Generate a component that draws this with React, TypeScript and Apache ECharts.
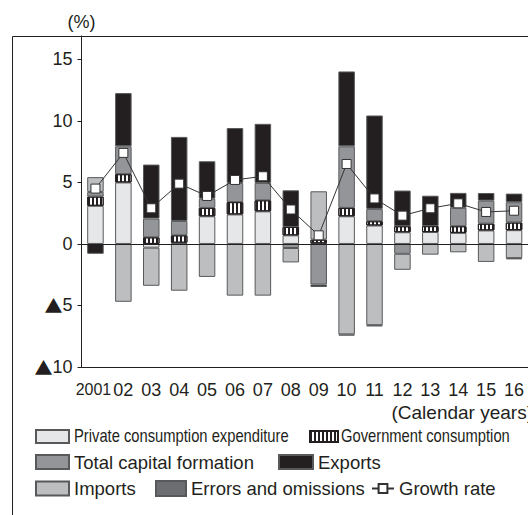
import React, { useEffect, useRef } from 'react';
import * as echarts from 'echarts';

const years = ['2001', '02', '03', '04', '05', '06', '07', '08', '09', '10', '11', '12', '13', '14', '15', '16'];
const privateCons = [3.1, 5.0, -0.3, 0.1, 2.25, 2.4, 2.65, 0.7, 0.05, 2.25, 1.5, 0.95, 0.97, 0.9, 1.1, 1.12];
const govtCons = [0.75, 0.67, 0.54, 0.6, 0.68, 1.0, 0.9, 0.68, 0.3, 0.68, 0.35, 0.49, 0.48, 0.54, 0.55, 0.62];
const capital = [0.38, 2.26, 1.52, 1.17, 0.75, 1.55, 1.41, -0.33, -3.3, 5.0, 1.0, -0.8, null, 1.5, 1.87, 1.65];
const exportsC = [-0.8, 4.33, 4.39, 6.83, 3.04, 4.47, 4.8, 2.98, -0.2, 6.09, 7.59, 2.9, 2.47, 1.21, 0.62, 0.7];
const importsC = [1.2, -4.7, -3.1, -3.8, -2.68, -4.2, -4.2, -1.17, 3.93, -7.35, -6.6, -1.3, -0.87, -0.68, -1.46, -1.15];
const errorsC = [null, null, null, null, null, null, null, null, null, -0.1, -0.1, null, null, null, null, -0.1];
const growth = [4.5, 7.4, 2.9, 4.9, 3.9, 5.2, 5.5, 2.8, 0.7, 6.5, 3.7, 2.3, 2.9, 3.3, 2.6, 2.7];

const FONT = "'Liberation Sans', Arial, Helvetica, sans-serif";
const INK = '#231f20';

export default function App() {
  const ref = useRef<HTMLDivElement>(null);
  useEffect(() => {
    const chart = echarts.init(ref.current as HTMLDivElement, null, { renderer: 'svg' });
    const bar = (name: string, data: any[], color: string) => ({
      name,
      type: 'bar',
      stack: 'gdp',
      data,
      barWidth: 16.5,
      itemStyle: { color, borderColor: '#58595b', borderWidth: 1 },
    });
    const leg = (name: string, left: number, top: number, w: number, h: number, hideText = false, icon: any = 'rect') => ({
      data: [name],
      left,
      top,
      padding: 0,
      itemGap: 0,
      itemWidth: w,
      itemHeight: h,
      selectedMode: false,
      ...(icon ? { icon } : {}),
      ...(hideText ? { formatter: () => '' } : {}),
      textStyle: { fontSize: 18.5, color: INK, fontFamily: FONT },
    });
    const narrowText = (text: string, x: number, y: number) => ({
      type: 'text',
      silent: true,
      x,
      y,
      scaleX: 0.82,
      style: {
        text,
        fontSize: 18,
        fontFamily: FONT,
        fill: INK,
        align: 'left',
        verticalAlign: 'middle',
        textAlign: 'left',
        textVerticalAlign: 'middle',
      },
    });
    const option: any = {
      animation: false,
      textStyle: { fontFamily: FONT },
      grid: { left: 81.5, top: 36, width: 452.8, height: 331 },
      xAxis: {
        type: 'category',
        data: years,
        axisLine: { onZero: false, lineStyle: { color: INK, width: 1 } },
        axisTick: { show: false },
        axisLabel: {
          interval: 0,
          fontSize: 18,
          color: INK,
          margin: 14,
          formatter: (v: string) => (v === '2001' ? '{n|2001}' : v),
          rich: { n: { fontFamily: FONT, fontSize: 16, color: INK, padding: [0, 4, 0, 0] } },
        },
      },
      yAxis: {
        type: 'value',
        min: -10,
        max: 16.9,
        interval: 5,
        name: '(%)',
        nameLocation: 'end',
        nameGap: 5,
        nameTextStyle: { fontSize: 18, color: INK, align: 'center' },
        axisLine: { show: true, lineStyle: { color: INK, width: 1 } },
        axisTick: { show: true, inside: false, length: 4, lineStyle: { color: INK } },
        splitLine: { show: false },
        axisLabel: {
          fontSize: 18,
          color: INK,
          margin: 9,
          formatter: (v: number) => {
            if (Math.abs(v % 5) > 1e-6) return '';
            return v < 0 ? '{t|\u25B2}' + -v : String(v);
          },
          rich: { t: { fontFamily: "'Noto Sans CJK JP', 'DejaVu Sans'", fontSize: 18, color: INK } },
        },
      },
      legend: [
        leg('Private consumption expenditure', 35, 429, 33, 13, true),
        leg('Government consumption', 309, 430, 28, 11, true),
        leg('Total capital formation', 35, 452.5, 33, 14),
        leg('Exports', 278, 452.5, 34, 14),
        leg('Imports', 35, 479, 33, 14),
        leg('Errors and omissions', 155, 479, 30, 15),
        leg('Growth rate', 371, 479, 22, 11, false, null),
      ],
      graphic: [
        {
          type: 'rect',
          silent: true,
          z: -10,
          shape: { x: 12.5, y: 36.5, width: 700, height: 700 },
          style: { fill: 'none', stroke: INK, lineWidth: 1 },
        },
        {
          type: 'text',
          silent: true,
          x: 533,
          y: 412,
          style: {
            text: '(Calendar years)',
            fontSize: 19,
            fontFamily: FONT,
            fill: INK,
            align: 'right',
            verticalAlign: 'middle',
            textAlign: 'right',
            textVerticalAlign: 'middle',
          },
        },
        narrowText('Private consumption expenditure', 74, 435.5),
        narrowText('Government consumption', 341, 435.5),
      ],
      series: [
        bar('Private consumption expenditure', privateCons, '#e6e7e8'),
        {
          ...bar('Government consumption', govtCons, '#ffffff'),
          itemStyle: {
            color: '#ffffff',
            borderColor: INK,
            borderWidth: 1,
            decal: {
              symbol: 'rect',
              symbolSize: 1,
              color: INK,
              dashArrayX: [2, 2],
              dashArrayY: [4, 0],
              rotation: 0,
            },
          },
        },
        bar('Total capital formation', capital, '#939598'),
        bar('Exports', exportsC, INK),
        bar('Imports', importsC, '#bcbec0'),
        bar('Errors and omissions', errorsC, '#6d6e71'),
        {
          name: 'Growth rate',
          type: 'line',
          data: growth,
          z: 5,
          symbol: 'rect',
          symbolSize: 9,
          lineStyle: { color: '#333', width: 1 },
          itemStyle: { color: '#ffffff', borderColor: '#333', borderWidth: 1 },
          markLine: {
            silent: true,
            symbol: 'none',
            label: { show: false },
            lineStyle: { color: INK, width: 1, type: 'solid' },
            data: [{ yAxis: 0 }],
          },
        },
      ],
    };
    chart.setOption(option);
    return () => chart.dispose();
  }, []);
  return <div ref={ref} style={{ position: 'absolute', left: 0, top: 0, width: 528, height: 515 }} />;
}
